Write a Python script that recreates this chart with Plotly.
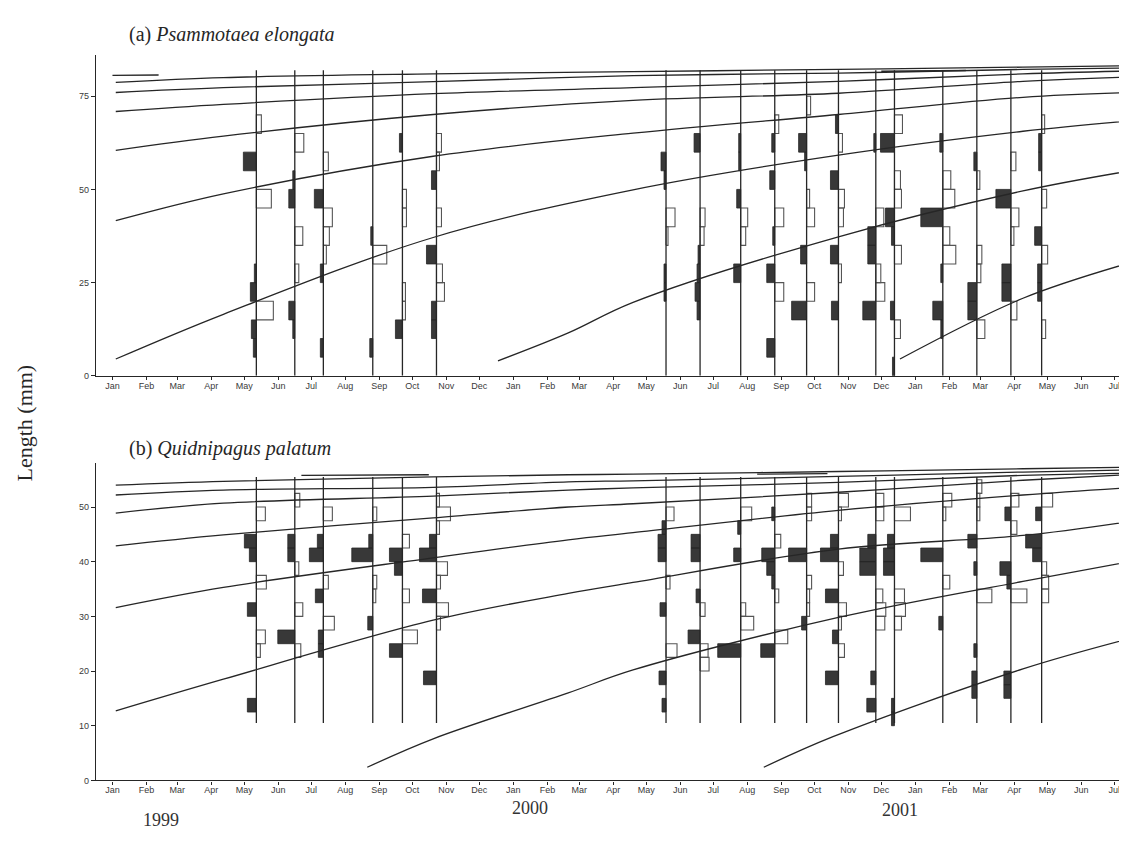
import plotly.graph_objects as go
from datetime import datetime, timedelta

# ---------------- data ----------------
SAMPLE_DATES = ["1999-05-12", "1999-06-16", "1999-07-12", "1999-08-26", "1999-09-22", "1999-10-23",
                "2000-05-19", "2000-06-19", "2000-07-26", "2000-08-26", "2000-09-24", "2000-10-23",
                "2000-11-26", "2000-12-13", "2001-01-26", "2001-02-26", "2001-03-29", "2001-04-26"]

# (a) length classes of 5 mm: (lower limit, restructured score); negative = black, positive = white
A_CLASS_WIDTH = 5.0
A_HIST = [
    [(65, 5), (55, -13), (45, 15), (25, -2), (20, -6), (15, 17), (10, -5), (5, -3)],
    [(60, 9), (50, -2), (45, -6), (35, 8), (25, 4), (15, -6), (10, -2)],
    [(55, 5), (45, -9), (40, 9), (35, 6), (30, 3), (25, -3), (5, -3)],
    [(35, -2), (30, 14), (5, -3)],
    [(60, -3), (45, 4), (40, 4), (20, 3), (15, 3), (10, -7)],
    [(60, 5), (55, 3), (50, -5), (40, 5), (30, -10), (25, 6), (20, 8), (15, -5), (10, -5)],
    [(55, -5), (50, -2), (40, 9), (35, 2), (25, -2), (20, -2)],
    [(60, -6), (40, 5), (35, 4), (30, -2), (25, -3), (20, -5), (15, -3)],
    [(60, -2), (55, -2), (45, -4), (40, 7), (35, 5), (25, -7)],
    [(65, 4), (60, -3), (50, -5), (40, 9), (35, -2), (25, -8), (20, 9), (5, -8)],
    [(70, 4), (60, -8), (55, -2), (45, 3), (40, 8), (30, -6), (20, 8), (15, -15)],
    [(65, -3), (60, 4), (50, -8), (45, 6), (40, 5), (30, -8), (25, 3), (15, -7)],
    [(60, -2), (40, 8), (35, -8), (30, -8), (25, 5), (20, 9), (15, -13)],
    [(65, 8), (60, -14), (50, 6), (45, 7), (40, -9), (35, -3), (30, 7), (15, -4), (10, 6), (0, -2)],
    [(60, -3), (50, 8), (45, 12), (40, -22), (35, 7), (30, 13), (25, -2), (15, -10), (10, -2)],
    [(55, -3), (50, 3), (30, 5), (25, 4), (20, -9), (15, -9), (10, 8)],
    [(55, 5), (45, -15), (40, 8), (35, 3), (25, -9), (20, -9), (15, 6)],
    [(65, 3), (60, -3), (55, -3), (45, 5), (35, -7), (30, 6), (25, -4), (20, -4), (10, 4)],
]
A_BASE_RANGE = [0, 82]

# (b) length classes of 2.5 mm
B_CLASS_WIDTH = 2.5
B_HIST = [
    [(47.5, 9), (42.5, -12), (40, -7), (35, 10), (30, -9), (25, 9), (22.5, 4), (12.5, -9)],
    [(50, 5), (42.5, -7), (40, -7), (37.5, 4), (30, 8), (25, -17), (22.5, 6)],
    [(47.5, 9), (42.5, -6), (40, -14), (35, 5), (32.5, -8), (27.5, 11), (25, -5), (22.5, -5)],
    [(47.5, 4), (42.5, -4), (40, -21), (35, 4), (32.5, 3), (27.5, -5)],
    [(42.5, 7), (40, -13), (37.5, -8), (32.5, 7), (25, 15), (22.5, -13)],
    [(50, 3), (47.5, 14), (45, 3), (42.5, -7), (40, -17), (37.5, 11), (35, 4), (32.5, -14), (30, 12),
     (27.5, 4), (17.5, -13)],
    [(47.5, 8), (45, -4), (42.5, -8), (40, -8), (35, 4), (30, -6), (22.5, 11), (17.5, -7), (12.5, -4)],
    [(42.5, -9), (40, -9), (32.5, -4), (30, 5), (25, -12), (22.5, 8), (20, 9)],
    [(47.5, 11), (45, -3), (40, -7), (30, 5), (27.5, 13), (22.5, -23)],
    [(47.5, -3), (42.5, 6), (40, -13), (37.5, -8), (35, -3), (32.5, 4), (25, 13), (22.5, -14)],
    [(50, 5), (47.5, 5), (40, -18), (35, 5), (32.5, 3), (30, 3), (27.5, -5)],
    [(50, 10), (47.5, 3), (42.5, -8), (40, -18), (37.5, 5), (32.5, -13), (30, 8), (27.5, 3), (25, -6),
     (22.5, 6), (17.5, -13)],
    [(50, 8), (47.5, 8), (42.5, -8), (40, -16), (37.5, -16), (32.5, 7), (30, 10), (27.5, 9), (17.5, -5),
     (12.5, -9)],
    [(47.5, 16), (42.5, -7), (40, -11), (37.5, -11), (32.5, 10), (30, 11), (27.5, 7), (12.5, -3), (10, -3)],
    [(50, 9), (47.5, 3), (40, -22), (35, 7), (27.5, -4)],
    [(52.5, 5), (50, 3), (47.5, 3), (42.5, -9), (37.5, -3), (32.5, 15), (22.5, -3), (17.5, -5), (15, -5)],
    [(50, 8), (47.5, -6), (45, 6), (37.5, -11), (35, -4), (32.5, 16), (17.5, -7), (15, -7)],
    [(50, 11), (47.5, -6), (42.5, -16), (40, -9), (37.5, 5), (35, 7), (32.5, 7)],
]
B_BASE_RANGE = [10.5, 55.5]

# growth curves (a)
A_GRID_DATES = ["1999-01-04", "1999-04-12", "1999-10-20", "2000-04-19", "2000-10-23", "2001-04-09", "2001-07-20"]
A_COHORT_1999 = [4.5, 16.5, 37.1, 49.9, 59.2, 65.6, 68.5]
A_OLD_1 = [41.6, 48.8, 58.9, 65.1, 70.1, 74.7, 76.0]
A_OLD_2 = [60.5, 64.3, 70.1, 73.9, 75.8, 79.0, 80.2]
A_OLD_3 = [70.9, 72.8, 75.7, 77.3, 79.0, 81.0, 81.8]
A_OLD_4 = [76.0, 77.3, 78.9, 80.5, 81.2, 82.2, 82.6]
A_OLD_5 = [78.7, 80.0, 81.0, 81.6, 82.2, 82.8, 83.2]
A_COHORT_2000_DATES = ["1999-12-18", "2000-02-20", "2000-04-19", "2000-10-23", "2001-04-09", "2001-07-20"]
A_COHORT_2000 = [4.0, 11.5, 19.7, 37.3, 49.6, 55.2]
A_COHORT_2001_DATES = ["2000-12-18", "2001-04-09", "2001-07-20"]
A_COHORT_2001 = [4.5, 20.8, 30.7]
A_FRAG_1_DATES = ["1999-01-01", "1999-02-12"]
A_FRAG_1 = [80.6, 80.7]
A_FRAG_2_DATES = ["2000-12-01", "2001-02-16"]
A_FRAG_2 = [81.7, 81.9]

# growth curves (b)
B_GRID_DATES = ["1999-01-04", "1999-04-12", "1999-10-20", "2000-02-20", "2000-04-19", "2000-10-23",
                "2001-04-09", "2001-07-20"]
B_COHORT_1999 = [12.7, 18.5, 29.3, 34.2, 36.2, 42.3, 44.8, 47.5]
B_OLD_1 = [31.6, 35.3, 40.7, 44.0, 45.3, 49.4, 52.2, 53.6]
B_OLD_2 = [42.9, 44.9, 48.0, 50.0, 50.6, 52.7, 54.9, 56.0]
B_OLD_3 = [48.9, 50.7, 52.0, 53.1, 53.5, 54.5, 55.8, 56.2]
B_OLD_4 = [52.2, 53.1, 53.6, 54.6, 54.8, 55.6, 56.4, 56.8]
B_OLD_5 = [54.0, 54.7, 55.5, 55.9, 56.0, 56.5, 57.0, 57.3]
B_COHORT_2000_DATES = ["1999-08-21", "1999-10-20", "2000-02-20", "2000-04-19", "2000-10-23", "2001-04-09", "2001-07-20"]
B_COHORT_2000 = [2.4, 7.6, 16.0, 20.2, 29.8, 36.4, 40.2]
B_COHORT_2001_DATES = ["2000-08-16", "2000-10-18", "2001-04-09", "2001-07-20"]
B_COHORT_2001 = [2.4, 8.0, 20.4, 26.2]
B_FRAG_1_DATES = ["1999-06-22", "1999-10-16"]
B_FRAG_1 = [55.8, 55.9]
B_FRAG_2_DATES = ["2000-08-10", "2000-10-13"]
B_FRAG_2 = [56.0, 56.1]

YEAR_LABELS = ["1999", "2000", "2001"]
A_YTICKS = [0, 25, 50, 75]
B_YTICKS = [0, 10, 20, 30, 40, 50]

# ---------------- style ----------------
W, H = 1127, 841
DAYS_PER_SCORE = 0.91   # horizontal size of one score unit, in days
INK = "#262626"
BAR_FILL = "#383838"
OPEN_LINE = "#555555"
SERIF = "Liberation Serif, Times New Roman, serif"
NARROW = "Liberation Sans Narrow, Liberation Sans, Arial, sans-serif"


def d(s):
    return datetime.fromisoformat(s)


def bar_polys(hists, width, positive):
    xs, ys = [], []
    for date, hist in zip(SAMPLE_DATES, hists):
        base = d(date)
        for low, val in hist:
            if (val > 0) != positive:
                continue
            off = base + timedelta(days=val * DAYS_PER_SCORE)
            hi = low + width
            xs += [base, off, off, base, base, None]
            ys += [low, low, hi, hi, low, None]
    return xs, ys


def baselines(rng):
    xs, ys = [], []
    for date in SAMPLE_DATES:
        xs += [d(date), d(date), None]
        ys += [rng[0], rng[1], None]
    return xs, ys


fig = go.Figure()


def add_panel(hists, width, base_rng, curves, xa, ya):
    fx, fy = bar_polys(hists, width, False)
    fig.add_trace(go.Scatter(x=fx, y=fy, mode="lines", fill="toself", fillcolor=BAR_FILL,
                             line=dict(color=INK, width=0.8), hoverinfo="skip", showlegend=False,
                             xaxis=xa, yaxis=ya))
    ox, oy = bar_polys(hists, width, True)
    fig.add_trace(go.Scatter(x=ox, y=oy, mode="lines", fill="toself", fillcolor="white",
                             line=dict(color=OPEN_LINE, width=1.1), hoverinfo="skip", showlegend=False,
                             xaxis=xa, yaxis=ya))
    bx, by = baselines(base_rng)
    fig.add_trace(go.Scatter(x=bx, y=by, mode="lines", line=dict(color=INK, width=1.3),
                             hoverinfo="skip", showlegend=False, xaxis=xa, yaxis=ya))
    for dates, lens in curves:
        fig.add_trace(go.Scatter(x=[d(s) for s in dates], y=lens, mode="lines",
                                 line=dict(color=INK, width=1.3, shape="spline", smoothing=1.0),
                                 hoverinfo="skip", showlegend=False, xaxis=xa, yaxis=ya))


add_panel(A_HIST, A_CLASS_WIDTH, A_BASE_RANGE, [
    (A_GRID_DATES, A_COHORT_1999), (A_GRID_DATES, A_OLD_1), (A_GRID_DATES, A_OLD_2),
    (A_GRID_DATES, A_OLD_3), (A_GRID_DATES, A_OLD_4), (A_GRID_DATES, A_OLD_5),
    (A_COHORT_2000_DATES, A_COHORT_2000), (A_COHORT_2001_DATES, A_COHORT_2001),
    (A_FRAG_1_DATES, A_FRAG_1), (A_FRAG_2_DATES, A_FRAG_2)], "x", "y")

add_panel(B_HIST, B_CLASS_WIDTH, B_BASE_RANGE, [
    (B_GRID_DATES, B_COHORT_1999), (B_GRID_DATES, B_OLD_1), (B_GRID_DATES, B_OLD_2),
    (B_GRID_DATES, B_OLD_3), (B_GRID_DATES, B_OLD_4), (B_GRID_DATES, B_OLD_5),
    (B_COHORT_2000_DATES, B_COHORT_2000), (B_COHORT_2001_DATES, B_COHORT_2001),
    (B_FRAG_1_DATES, B_FRAG_1), (B_FRAG_2_DATES, B_FRAG_2)], "x2", "y2")

XDOM = [88 / W, 1.0]
XRANGE = ["1998-12-17", "2001-07-20"]
xcommon = dict(type="date", range=XRANGE, domain=XDOM, tick0="1999-01-01", dtick="M1", tickformat="%b",
               ticks="outside", ticklen=3, tickcolor=INK, showline=True, linecolor=INK, linewidth=1.3,
               showgrid=False, zeroline=False, ticklabelstandoff=-2,
               tickfont=dict(family=NARROW, size=9, color="#3a3a3a"))
ycommon = dict(ticks="outside", ticklen=4, tickcolor=INK, showline=True, linecolor=INK, linewidth=1.3,
               showgrid=False, zeroline=False, tickfont=dict(family=NARROW, size=9, color="#3a3a3a"))

A_BOTTOM, A_TOP = 370, 370 - 86 * 3.75
B_BOTTOM, B_TOP = 777, 777 - 58 * 5.5

fig.update_layout(
    width=W, height=H, margin=dict(l=0, r=0, t=0, b=0),
    paper_bgcolor="white", plot_bgcolor="white",
    xaxis=dict(**xcommon, anchor="y"),
    yaxis=dict(**ycommon, anchor="x", domain=[1 - A_BOTTOM / H, 1 - A_TOP / H], range=[0, 86],
               tickvals=A_YTICKS),
    xaxis2=dict(**xcommon, anchor="y2"),
    yaxis2=dict(**ycommon, anchor="x2", domain=[1 - B_BOTTOM / H, 1 - B_TOP / H], range=[0, 58],
                tickvals=B_YTICKS),
    annotations=[
        dict(text="(a) <i>Psammotaea elongata</i>", x=119 / W, y=1 - 27 / H, xref="paper", yref="paper",
             xanchor="left", yanchor="middle", showarrow=False, font=dict(family=SERIF, size=20, color=INK)),
        dict(text="(b) <i>Quidnipagus palatum</i>", x=119 / W, y=1 - 443 / H, xref="paper", yref="paper",
             xanchor="left", yanchor="middle", showarrow=False, font=dict(family=SERIF, size=20, color=INK)),
        dict(text="Length (mm)", x=17 / W, y=1 - 418 / H, xref="paper", yref="paper", textangle=-90,
             xanchor="center", yanchor="middle", showarrow=False, font=dict(family=SERIF, size=22, color=INK)),
        dict(text=YEAR_LABELS[0], x=133 / W, y=1 - 829 / H, xref="paper", yref="paper",
             showarrow=False, font=dict(family=SERIF, size=18, color="#333")),
        dict(text=YEAR_LABELS[1], x=522 / W, y=1 - 817 / H, xref="paper", yref="paper",
             showarrow=False, font=dict(family=SERIF, size=18, color="#333")),
        dict(text=YEAR_LABELS[2], x=912 / W, y=1 - 819 / H, xref="paper", yref="paper",
             showarrow=False, font=dict(family=SERIF, size=18, color="#333")),
    ],
)

fig.write_html("out.html")
